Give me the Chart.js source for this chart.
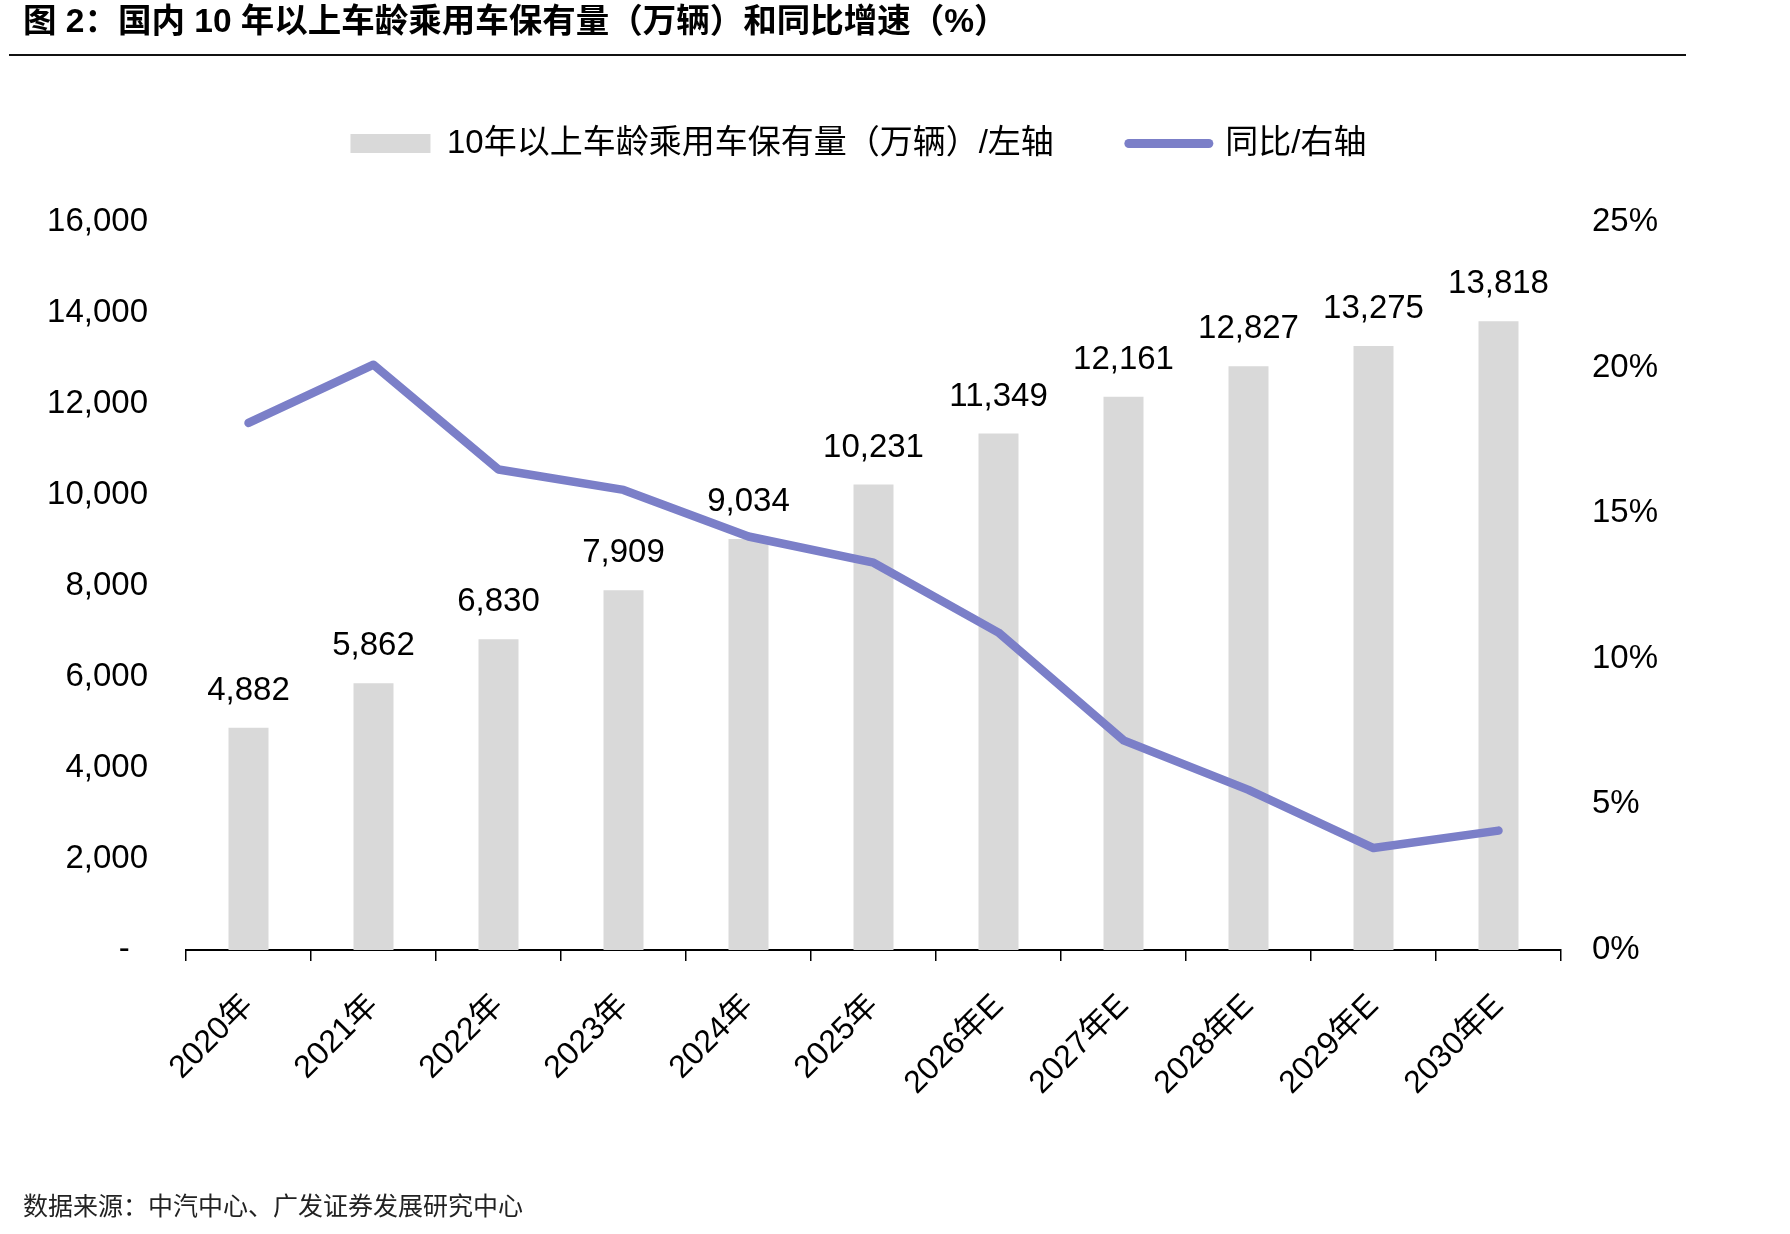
<!DOCTYPE html>
<html>
<head>
<meta charset="utf-8">
<script src="https://cdn.jsdelivr.net/npm/chart.js@4.4.1/dist/chart.umd.min.js"></script>
<style>
  html, body { margin: 0; padding: 0; background: #fff; }
  #wrap { position: relative; width: 1790px; height: 1234px; overflow: hidden; }
  #c { position: absolute; left: 0; top: 0; }
  #title { position: absolute; left: 23px; top: 4px; line-height: 1; font: bold 33.5px 'Liberation Sans', 'Noto Sans CJK SC', sans-serif; color: #000; white-space: nowrap; }
  #rule { position: absolute; left: 9px; top: 54px; width: 1677px; height: 2px; background: #111; }
  #foot { position: absolute; left: 23px; top: 1192px; line-height: 1; font: 25px 'Noto Sans CJK SC', sans-serif; color: #222; white-space: nowrap; }
</style>
</head>
<body>
<div id="wrap">
  <canvas id="c" width="1790" height="1234"></canvas>
  <div id="title" style="line-height:1">图 2：国内 10 年以上车龄乘用车保有量（万辆）和同比增速（%）</div>
  <div id="rule"></div>
  <div id="foot" style="line-height:1">数据来源：中汽中心、广发证券发展研究中心</div>
</div>
<script>
const categories = ['2020年', '2021年', '2022年', '2023年', '2024年', '2025年', '2026年E', '2027年E', '2028年E', '2029年E', '2030年E'];
const stockValues = [4882, 5862, 6830, 7909, 9034, 10231, 11349, 12161, 12827, 13275, 13818];
const yoyValues = [18.1, 20.1, 16.5, 15.8, 14.2, 13.3, 10.9, 7.2, 5.5, 3.5, 4.1];
const seriesNames = ['10年以上车龄乘用车保有量（万辆）/左轴', '同比/右轴'];

const FONT = "'Liberation Sans', 'Noto Sans CJK SC', sans-serif";
const BAR_COLOR = '#D9D9D9';
const LINE_COLOR = '#7B7FC8';
const LAYOUT_TOP = 52;
const LAYOUT_RIGHT = 73;
const PLOT_TOP = 222;
const PLOT_BOTTOM = 950;
const PLOT_LEFT = 186;
const PLOT_RIGHT = 1561;
const LEGEND_H = PLOT_TOP - LAYOUT_TOP;

const legendHeightFix = {
  id: 'legendHeightFix',
  afterInit(chart) {
    const lg = chart.legend;
    if (!lg) return;
    const orig = lg.fit.bind(lg);
    lg.fit = function () { orig(); this.height = LEGEND_H; };
  }
};

const barLabels = {
  id: 'barLabels',
  afterDatasetsDraw(chart) {
    const meta = chart.getDatasetMeta(0);
    const ctx = chart.ctx;
    ctx.save();
    ctx.font = '33px ' + FONT;
    ctx.fillStyle = '#000';
    ctx.textAlign = 'center';
    ctx.textBaseline = 'middle';
    meta.data.forEach((bar, i) => {
      ctx.fillText(stockValues[i].toLocaleString('en-US'), bar.x, bar.y - 37);
    });
    ctx.restore();
  }
};

new Chart(document.getElementById('c'), {
  data: {
    labels: categories,
    datasets: [
      {
        type: 'bar',
        label: seriesNames[0],
        data: stockValues,
        backgroundColor: BAR_COLOR,
        yAxisID: 'y',
        categoryPercentage: 1,
        barPercentage: 0.32,
        order: 2
      },
      {
        type: 'line',
        label: seriesNames[1],
        data: yoyValues,
        borderColor: LINE_COLOR,
        backgroundColor: LINE_COLOR,
        borderWidth: 8.5,
        pointRadius: 0,
        tension: 0,
        borderCapStyle: 'round',
        borderJoinStyle: 'round',
        yAxisID: 'y1',
        order: 1
      }
    ]
  },
  options: {
    responsive: false,
    animation: false,
    devicePixelRatio: 1,
    layout: { padding: { top: LAYOUT_TOP, left: 0, right: LAYOUT_RIGHT, bottom: 0 } },
    plugins: {
      tooltip: { enabled: false },
      legend: {
        position: 'top',
        align: 'center',
        labels: {
          usePointStyle: true,
          pointStyleWidth: 80,
          boxHeight: 19,
          padding: 75,
          color: '#000',
          font: { size: 33, family: FONT },
          generateLabels(chart) {
            return [
              { text: seriesNames[0], fillStyle: BAR_COLOR, strokeStyle: BAR_COLOR, lineWidth: 0, pointStyle: 'rect', datasetIndex: 0, hidden: false },
              { text: seriesNames[1], fillStyle: LINE_COLOR, strokeStyle: LINE_COLOR, lineWidth: 9, lineCap: 'round', pointStyle: 'line', datasetIndex: 1, hidden: false }
            ];
          }
        }
      }
    },
    scales: {
      x: {
        type: 'category',
        offset: true,
        grid: { offset: true, drawOnChartArea: false, drawTicks: true, tickLength: 11, color: '#000', lineWidth: 1.5 },
        border: { display: true, color: '#000', width: 2 },
        ticks: { color: '#000', font: { size: 32, family: FONT }, minRotation: 45, maxRotation: 45, padding: 26, autoSkip: false },
        afterFit(scale) { scale.height = 1234 - PLOT_BOTTOM; }
      },
      y: {
        position: 'left',
        min: 0, max: 16000,
        grid: { display: false, drawTicks: false },
        border: { display: false },
        ticks: {
          stepSize: 2000, color: '#000', padding: 38,
          font: { size: 33, family: FONT },
          callback: (v) => v === 0 ? '-  ' : v.toLocaleString('en-US')
        },
        afterFit(scale) { scale.width = PLOT_LEFT; }
      },
      y1: {
        position: 'right',
        min: 0, max: 25,
        grid: { display: false, drawTicks: false },
        border: { display: false },
        ticks: {
          stepSize: 5, color: '#000', padding: 31,
          font: { size: 33, family: FONT },
          callback: (v) => v + '%'
        },
        afterFit(scale) { scale.width = 1790 - LAYOUT_RIGHT - PLOT_RIGHT; }
      }
    }
  },
  plugins: [legendHeightFix, barLabels]
});
</script>
</body>
</html>
